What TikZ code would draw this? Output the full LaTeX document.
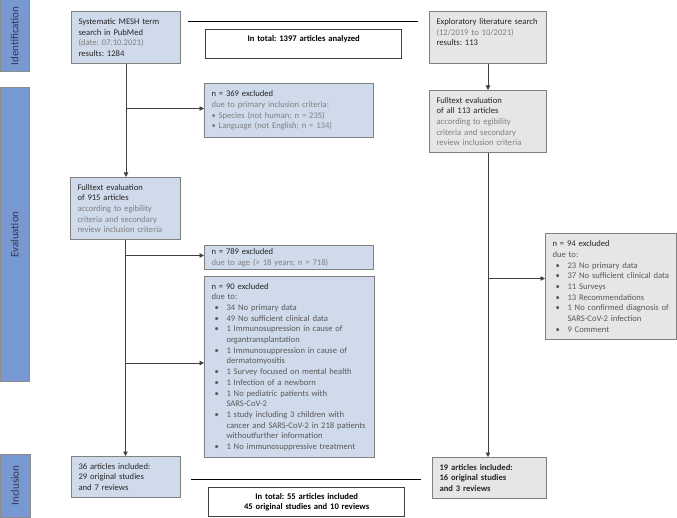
\documentclass[tikz,border=0pt]{standalone}
\usepackage{fontspec}
\setmainfont{Carlito}
\usetikzlibrary{arrows.meta}
\definecolor{sidefill}{HTML}{7898D2}
\definecolor{sideline}{HTML}{8C8C8C}
\definecolor{sidetxt}{HTML}{2F3A4A}
\definecolor{boxblue}{HTML}{CFDAEA}
\definecolor{boxgrey}{HTML}{E6E6E6}
\definecolor{boxline}{HTML}{808080}
\definecolor{txt}{HTML}{262626}
\definecolor{subtxt}{HTML}{808080}
\definecolor{listtxt}{HTML}{595959}
\definecolor{linecol}{HTML}{404040}
\newcommand{\greytxt}[1]{\textcolor{subtxt}{#1}}
\newcommand{\bul}[1]{\par\hangindent=15pt\hangafter=1\noindent\makebox[15pt][l]{\hspace{3pt}\textbullet}#1}
\frenchspacing
\begin{document}
\begin{tikzpicture}[x=1pt,y=-1pt,font=\fontsize{8.6}{10.7}\selectfont\frenchspacing,
    box/.style={draw=boxline,line width=1pt,anchor=north west,align=left,inner xsep=7pt,inner ysep=2pt,text=txt},
    bluebox/.style={box,fill=boxblue},
    greybox/.style={box,fill=boxgrey},
    totalbox/.style={box,fill=white,draw=linecol,line width=1.3pt,align=center,font=\fontsize{8.6}{10.7}\selectfont\frenchspacing\bfseries,text=black},
    side/.style={draw=sideline,fill=sidefill,line width=1pt,rotate=90,font=\fontsize{11}{13}\selectfont,text=sidetxt,inner sep=0pt},
    wh/.style 2 args={text width=#1,minimum height=#2},
    arr/.style={draw=linecol,line width=0.8pt,-{Triangle[length=4.5pt,width=4.5pt]}},
    bar/.style={draw=black,line width=1pt}]
  \useasboundingbox (0,0) rectangle (677,518);

  \node[side,minimum width=72pt,minimum height=29pt] (sidid) at (14.5,36) {Identification};
  \node[side,minimum width=293pt,minimum height=29pt] (sideval) at (14.5,234.5) {Evaluation};
  \node[side,minimum width=63pt,minimum height=30pt] (sidinc) at (15,485.5) {Inclusion};

  \node[bluebox,wh={95pt}{52pt}] (mesh) at (71,11)
    {Systematic MESH term\\search in PubMed\\\greytxt{(date: 07.10.2021)}\\results: 1284};
  \node[greybox,wh={103pt}{52pt}] (explor) at (429,11)
    {Exploratory literature search\\\greytxt{(12/2019 to 10/2021)}\\results: 113\\\mbox{}};
  \node[totalbox,wh={182pt}{29pt}] (tot1) at (205,29)
    {In total: 1397 articles analyzed\\\mbox{}};
  \node[bluebox,wh={155pt}{54pt}] (n369) at (204,83)
    {n = 369 excluded\\{\color{subtxt}due to primary inclusion criteria:\\\textbullet\ Species (not human; n = 235)\\\textbullet\ Language (not English; n = 134)}};
  \node[bluebox,wh={96pt}{62pt}] (lfull) at (70,177)
    {Fulltext evaluation\\of 915 articles\\{\color{subtxt}according to egibility\\criteria and secondary\\review inclusion criteria}};
  \node[greybox,wh={103pt}{62pt}] (rfull) at (429,90)
    {Fulltext evaluation\\of all 113 articles\\{\color{subtxt}according to egibility\\criteria and secondary\\review inclusion criteria}};
  \node[bluebox,wh={155pt}{24pt}] (n789) at (204,245)
    {n = 789 excluded\\\greytxt{due to age (> 18 years; n = 718)}};
  \node[bluebox,wh={156pt}{181pt}] (n90) at (204,276)
    {n = 90 excluded\par{\color{listtxt}due to:
    \bul{34 No primary data}
    \bul{49 No sufficient clinical data}
    \bul{1 Immunosupression in cause of\newline organtransplantation}
    \bul{1 Immunosuppression in cause of\newline dermatomyositis}
    \bul{1 Survey focused on mental health}
    \bul{1 Infection of a newborn}
    \bul{1 No pediatric patients with\newline SARS-CoV-2}
    \bul{1 study including 3 children with\newline cancer and SARS-CoV-2 in 218 patients\newline withoutfurther information}
    \bul{1 No immunosuppressive treatment}}};
  \node[greybox,wh={117pt}{106pt}] (n94) at (545,233)
    {n = 94 excluded\par{\color{listtxt}due to:
    \bul{23 No primary data}
    \bul{37 No sufficient clinical data}
    \bul{11 Surveys}
    \bul{13 Recommendations}
    \bul{1 No confirmed diagnosis of\newline SARS-CoV-2 infection}
    \bul{9 Comment}}};
  \node[bluebox,wh={95pt}{41pt}] (inc36) at (71,456)
    {36 articles included:\\29 original studies\\and 7 reviews};
  \node[greybox,wh={100pt}{41pt},font=\fontsize{8.6}{10.7}\selectfont\frenchspacing\bfseries] (inc19) at (432,457)
    {19 articles included:\\16 original studies\\and 3 reviews};
  \node[totalbox,wh={182pt}{29pt}] (tot2) at (208,487)
    {In total: 55 articles included\\45 original studies and 10 reviews};

  \coordinate (t1a) at (188,22);
  \coordinate (t1b) at (418,22);
  \coordinate (t2a) at (191,479);
  \coordinate (t2b) at (421,479);
  \draw[bar] (t1a) -- (t1b);
  \draw[bar] (t2a) -- (t2b);

  \coordinate (j369) at ([yshift=2pt]n369.west);
  \coordinate (j789) at ([yshift=2pt]n789.west);
  \coordinate (j90) at ([yshift=4pt]n90.west);
  \coordinate (j94) at ([yshift=8pt]n94.west);

  \draw[arr] (mesh.south) -- (mesh.south |- lfull.north);
  \draw[arr] (mesh.south |- j369) -- (j369);
  \draw[arr] (lfull.south) -- (lfull.south |- inc36.north);
  \draw[arr] (lfull.south |- j789) -- (j789);
  \draw[arr] (lfull.south |- j90) -- (j90);
  \draw[arr] (explor.south) -- (explor.south |- rfull.north);
  \draw[arr] (rfull.south) -- (rfull.south |- inc19.north);
  \draw[arr] (rfull.south |- j94) -- (j94);
\end{tikzpicture}
\end{document}
